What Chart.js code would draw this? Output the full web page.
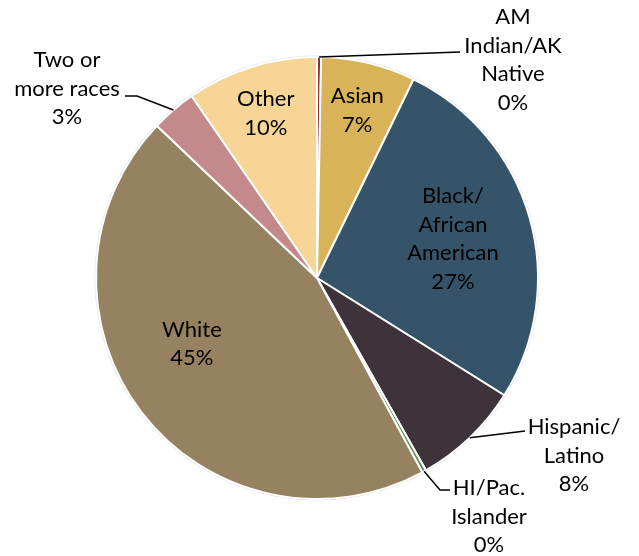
<!DOCTYPE html>
<html lang="en">
<head>
  <meta charset="UTF-8">
  <title>Race / Ethnicity Distribution</title>
  <script src="https://cdn.jsdelivr.net/npm/chart.js"></script>
  <style>
    body {
      margin: 0;
      background: #ffffff;
    }
    canvas {
      display: block;
    }
  </style>
</head>
<body>
  <canvas id="raceChart" width="639" height="556"></canvas>
  <script>
    // data (percent of total, clockwise from 12 o'clock)
    const categories = ['AM Indian/AK Native', 'Asian', 'Black/African American', 'Hispanic/Latino',
                        'HI/Pac. Islander', 'White', 'Two or more races', 'Other'];
    const shares = [0.3, 6.9, 26.7, 7.9, 0.3, 45.0, 3.3, 9.6];
    const labelLines = [['AM', 'Indian/AK', 'Native'], ['Asian'], ['Black/', 'African', 'American'],
                        ['Hispanic/', 'Latino'], ['HI/Pac.', 'Islander'], ['White'], ['Two or', 'more races'], ['Other']];

    const colors = ['#9b2c2f', '#d8b357', '#365469', '#3e323b', '#5f8f55', '#968260', '#c3898b', '#f6d596'];

    // where each label goes: inside (radius fraction + angle nudge) or outside with a leader line
    const placement = [
      { out: true, text: [196, -261], path: [[143, -226]] },
      { r: 0.78, da: 0 },
      { r: 0.64, da: 0 },
      { out: true, text: [257, 149], path: [[200, 154], [208, 153]] },
      { out: true, text: [172, 210], path: [[123, 212], [133, 212]] },
      { r: 0.64, da: 9.6 },
      { out: true, text: [-250, -218], path: [[-180, -182], [-192, -182]] },
      { r: 0.78, da: 0 }
    ];

    const LINE_H = 28.5;

    const pieLabels = {
      id: 'pieLabels',
      afterDatasetsDraw(chart) {
        const ctx = chart.ctx;
        const meta = chart.getDatasetMeta(0);
        ctx.save();
        ctx.font = '22px Lato, sans-serif';
        ctx.fillStyle = '#000';
        ctx.textAlign = 'center';
        ctx.textBaseline = 'middle';
        ctx.strokeStyle = '#000';
        ctx.lineWidth = 1.5;

        meta.data.forEach((arc, i) => {
          const p = arc.getProps(['x', 'y', 'startAngle', 'endAngle', 'outerRadius'], true);
          const mid = (p.startAngle + p.endAngle) / 2;
          const lines = labelLines[i].concat([Math.round(shares[i]) + '%']);
          const pl = placement[i];

          if (pl.out) {
            const sx = p.x + Math.cos(mid) * p.outerRadius;
            const sy = p.y + Math.sin(mid) * p.outerRadius;
            ctx.beginPath();
            ctx.moveTo(sx, sy);
            pl.path.forEach(pt => ctx.lineTo(p.x + pt[0], p.y + pt[1]));
            ctx.stroke();
            lines.forEach((t, k) => {
              ctx.fillText(t, p.x + pl.text[0], p.y + pl.text[1] + k * LINE_H);
            });
          } else {
            const a = mid + pl.da * Math.PI / 180;
            const cx = p.x + Math.cos(a) * p.outerRadius * pl.r;
            const cy = p.y + Math.sin(a) * p.outerRadius * pl.r;
            const top = cy - (lines.length - 1) * LINE_H / 2;
            lines.forEach((t, k) => ctx.fillText(t, cx, top + k * LINE_H));
          }
        });
        ctx.restore();
      }
    };

    // faint outline round the pie, like the original
    const pieRim = {
      id: 'pieRim',
      beforeDatasetsDraw(chart) {
        const arc = chart.getDatasetMeta(0).data[0];
        if (!arc) return;
        const ctx = chart.ctx;
        ctx.save();
        ctx.beginPath();
        ctx.arc(arc.x, arc.y, arc.outerRadius + 1.5, 0, Math.PI * 2);
        ctx.fillStyle = '#e2e2e2';
        ctx.fill();
        ctx.restore();
      }
    };

    new Chart(document.getElementById('raceChart'), {
      type: 'pie',
      data: {
        labels: categories,
        datasets: [{
          data: shares,
          backgroundColor: colors,
          borderColor: '#ffffff',
          borderWidth: 2
        }]
      },
      options: {
        responsive: false,
        animation: false,
        layout: {
          padding: { top: 56, bottom: 56, left: 95, right: 100 }
        },
        plugins: {
          legend: { display: false },
          tooltip: { enabled: false }
        }
      },
      plugins: [pieRim, pieLabels]
    });
  </script>
</body>
</html>
